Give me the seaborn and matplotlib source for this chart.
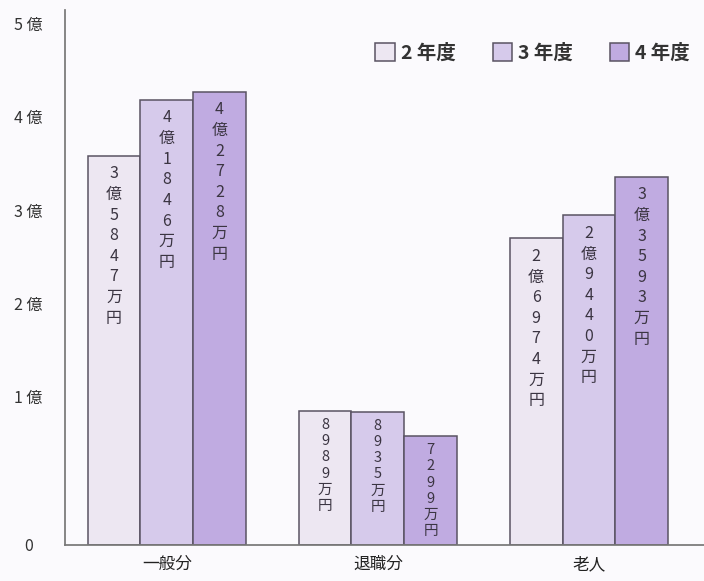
import numpy as np
import pandas as pd
import seaborn as sns
import matplotlib.pyplot as plt

# 単位: 万円
categories = ['一般分', '退職分', '老人']
years = ['2 年度', '3 年度', '4 年度']
year2 = [35847, 8989, 26974]
year3 = [41846, 8935, 29440]
year4 = [42728, 7299, 33593]
ytick_vals = [0, 1, 2, 3, 4, 5]
ytick_labels = ['0', '1 億', '2 億', '3 億', '4 億', '5 億']
colors = ['#ede5f4', '#d5c4f0', '#bea2ea']

df = pd.DataFrame({
    'cat': categories * 3,
    'year': [y for y in years for _ in categories],
    'man': year2 + year3 + year4,
})
df['oku'] = df['man'] / 10000


def fmt(man):
    oku, rest = divmod(man, 10000)
    s = (f'{oku}億' if oku else '') + f'{rest}万円'
    return '\n'.join(s)


sns.set_theme(style='white')
plt.rcParams['font.family'] = ['Noto Sans CJK JP', 'DejaVu Sans']

fig = plt.figure(figsize=(7.04, 5.81), dpi=100)
fig.patch.set_facecolor('#fbfafd')
ax = fig.add_axes([0.092, 0.062, 0.908, 0.921])
ax.set_facecolor('#fbfafd')

# lower part of the axis is stretched like the original
fwd = lambda v: np.where(v < 1, -0.6 + 1.6 * v, v)
inv = lambda u: np.where(u < 1, (u + 0.6) / 1.6, u)
ax.set_yscale('function', functions=(fwd, inv))

sns.barplot(data=df, x='cat', y='oku', hue='year', palette=colors,
            width=0.75, edgecolor='#5a5363', linewidth=1.1, ax=ax)

for cont, lvl in zip(ax.containers, years):
    sub = df[df['year'] == lvl]
    for patch, man in zip(cont, sub['man']):
        xc = patch.get_x() + patch.get_width() / 2
        short = man < 10000
        ax.annotate(fmt(man), (xc, patch.get_height()),
                    xytext=(0, -5 if short else -7),
                    textcoords='offset points', ha='center', va='top',
                    fontsize=10.5 if short else 11.5,
                    linespacing=1.2 if short else 1.28, color='#3b3542')

ax.set_xlim(-0.483, 2.545)
ax.set_ylim(0, 5.15)
ax.set_yticks(ytick_vals)
ax.set_yticklabels(ytick_labels, fontsize=11.5, color='#333333')
ax.tick_params(axis='y', length=0, pad=26)
ax.tick_params(axis='x', length=0, pad=8, labelsize=12, labelcolor='#222222')
for lab in ax.get_yticklabels():
    lab.set_horizontalalignment('center')
ax.set_xlabel('')
ax.set_ylabel('')
sns.despine(ax=ax)
ax.spines['left'].set_color('#777777')
ax.spines['bottom'].set_color('#777777')

sns.move_legend(ax, 'upper right', bbox_to_anchor=(1.005, 0.97), ncol=3,
                frameon=False, title=None, handlelength=1.0, handleheight=1.0,
                handletextpad=0.3, columnspacing=1.9,
                prop={'weight': 'bold', 'size': 14})
for t in ax.get_legend().get_texts():
    t.set_color('#333333')

fig.savefig('out.png', dpi=100)
